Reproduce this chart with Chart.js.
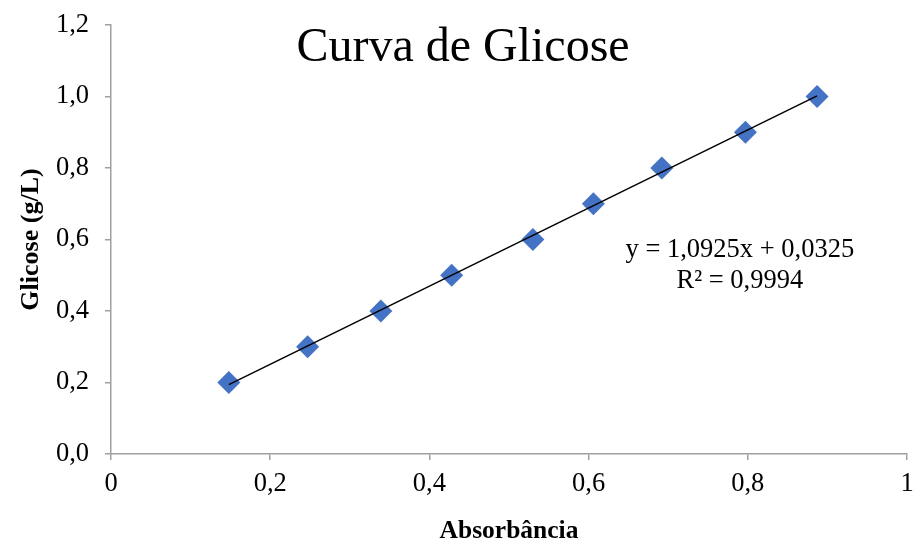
<!DOCTYPE html>
<html>
<head>
<meta charset="utf-8">
<script src="https://cdn.jsdelivr.net/npm/chart.js@4/dist/chart.umd.min.js"></script>
<style>
html,body{margin:0;padding:0;background:#fff;}
#wrap{width:914px;height:547px;}
</style>
</head>
<body>
<div id="wrap"><canvas id="c" width="914" height="547"></canvas></div>
<script>
// Data
const absorbancia = [0.148, 0.247, 0.339, 0.428, 0.530, 0.606, 0.692, 0.797, 0.887];
const glicose     = [0.2, 0.3, 0.4, 0.5, 0.6, 0.7, 0.8, 0.9, 1.0];
// Trendline as printed in the chart
const slope = 1.0925;
const intercept = 0.0325;
const r2Text = "R² = 0,9994";
const eqText = "y = 1,0925x + 0,0325";
const titleText = "Curva de Glicose";
const xTitle = "Absorbância";
const yTitle = "Glicose (g/L)";

const points = absorbancia.map((x, i) => ({x: x, y: glicose[i]}));
const xMin = Math.min(...absorbancia), xMax = Math.max(...absorbancia);
const trend = [xMin, xMax].map(x => ({x: x, y: slope * x + intercept}));

const fmt = v => (Math.round(v * 10) / 10).toString().replace('.', ',');
const fmtY = v => (Math.round(v * 10) / 10).toFixed(1).replace('.', ',');

const serif = "'Liberation Serif', 'Times New Roman', serif";

const overlay = {
  id: 'overlay',
  afterDraw(chart) {
    const ctx = chart.ctx;
    const xs = chart.scales.x, ys = chart.scales.y;
    ctx.save();
    ctx.fillStyle = '#000';
    ctx.textAlign = 'center';
    ctx.textBaseline = 'middle';
    ctx.font = '48px ' + serif;
    ctx.fillText(titleText, chart.width / 2 + 6, 48);
    ctx.font = '26.5px ' + serif;
    const ex = xs.getPixelForValue(0.79);
    ctx.fillText(eqText, ex, ys.getPixelForValue(0.571));
    ctx.fillText(r2Text, ex, ys.getPixelForValue(0.484));
    ctx.restore();
  }
};

new Chart(document.getElementById('c'), {
  type: 'scatter',
  data: {
    datasets: [
      {
        type: 'line',
        data: trend,
        borderColor: '#000',
        borderWidth: 1.5,
        pointRadius: 0,
        fill: false,
        order: 0
      },
      {
        data: points,
        pointStyle: 'rectRot',
        pointRadius: 11.5,
        pointHoverRadius: 11.5,
        backgroundColor: '#4472C4',
        borderColor: '#4472C4',
        borderWidth: 0,
        order: 1
      }
    ]
  },
  options: {
    responsive: false,
    animation: false,
    devicePixelRatio: 1,
    layout: {autoPadding: false, padding: {left: 0, right: 7, top: 25, bottom: 0}},
    plugins: {legend: {display: false}, tooltip: {enabled: false}, title: {display: false}},
    scales: {
      x: {
        type: 'linear',
        min: 0, max: 1,
        ticks: {stepSize: 0.2, callback: v => fmt(v), color: '#000', font: {family: serif, size: 26.5}, padding: 8, maxRotation: 0},
        grid: {drawOnChartArea: false, color: '#a0a0a0', tickLength: 6, lineWidth: 1.5},
        border: {color: '#a0a0a0', width: 1.5},
        title: {display: true, text: xTitle, color: '#000', font: {family: serif, size: 25.5, weight: 'bold'}, padding: {top: 0, bottom: 0}},
        afterFit(s) { s.height = 93; s.paddingLeft = 0; s.paddingRight = 0; }
      },
      y: {
        type: 'linear',
        min: 0, max: 1.2,
        ticks: {stepSize: 0.2, callback: v => fmtY(v), color: '#000', font: {family: serif, size: 26.5}, padding: 16},
        grid: {drawOnChartArea: false, color: '#a0a0a0', tickLength: 6, lineWidth: 1.5},
        border: {color: '#a0a0a0', width: 1.5},
        title: {display: true, text: yTitle, color: '#000', font: {family: serif, size: 26, weight: 'bold'}, padding: {top: 16, bottom: 0}},
        afterFit(s) { s.width = 111; s.paddingTop = 0; s.paddingBottom = 0; }
      }
    }
  },
  plugins: [overlay]
});
</script>
</body>
</html>
